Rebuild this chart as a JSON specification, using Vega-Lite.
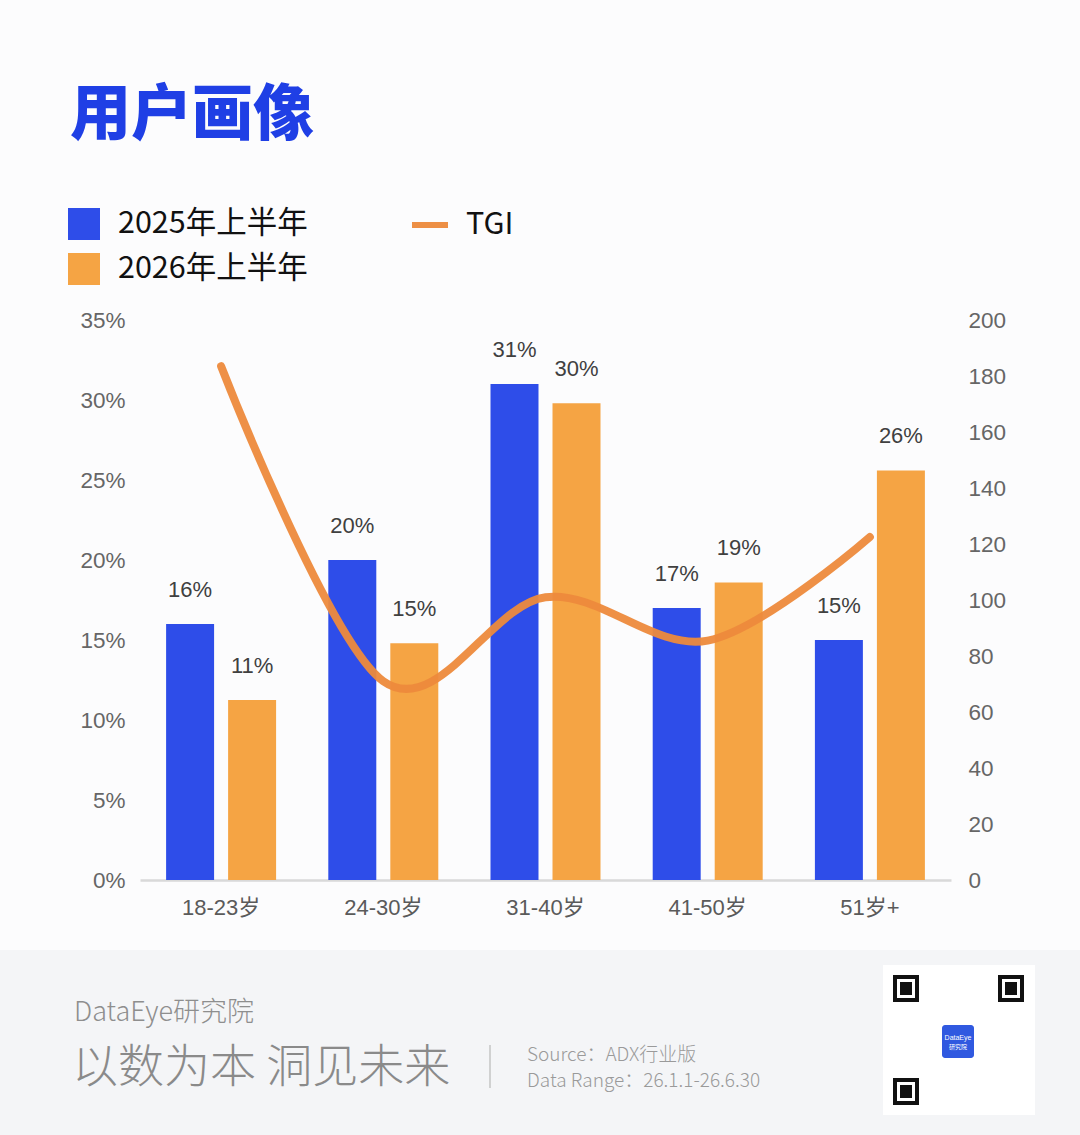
{
  "$schema": "https://vega.github.io/schema/vega-lite/v6.json",
  "width": 811,
  "height": 560,
  "autosize": {"type": "none"},
  "padding": {"left": 140, "top": 320, "right": 129, "bottom": 255},
  "background": "#FCFCFD",
  "title": {
    "text": "用户画像",
    "anchor": "start",
    "frame": "group",
    "font": "Noto Sans CJK SC",
    "fontSize": 61,
    "fontWeight": 900,
    "color": "#1F3FE5",
    "dx": -70,
    "offset": 56
  },
  "datasets": {
    "bars": [
      {"age": "18-23岁", "series": "2025年上半年", "share": 16, "label": "16%"},
      {"age": "18-23岁", "series": "2026年上半年", "share": 11.25, "label": "11%"},
      {"age": "24-30岁", "series": "2025年上半年", "share": 20, "label": "20%"},
      {"age": "24-30岁", "series": "2026年上半年", "share": 14.8, "label": "15%"},
      {"age": "31-40岁", "series": "2025年上半年", "share": 31, "label": "31%"},
      {"age": "31-40岁", "series": "2026年上半年", "share": 29.8, "label": "30%"},
      {"age": "41-50岁", "series": "2025年上半年", "share": 17, "label": "17%"},
      {"age": "41-50岁", "series": "2026年上半年", "share": 18.6, "label": "19%"},
      {"age": "51岁+", "series": "2025年上半年", "share": 15, "label": "15%"},
      {"age": "51岁+", "series": "2026年上半年", "share": 25.6, "label": "26%"}
    ],
    "tgi": [
      {"age": "18-23岁", "tgi": 183.5},
      {"age": "24-30岁", "tgi": 71},
      {"age": "31-40岁", "tgi": 101},
      {"age": "41-50岁", "tgi": 85.5},
      {"age": "51岁+", "tgi": 122.5}
    ]
  },
  "config": {
    "view": {"stroke": null},
    "font": "Liberation Sans"
  },
  "layer": [
    {
      "data": {"values": [{}]},
      "mark": {"type": "rect", "color": "#F4F5F7"},
      "encoding": {"x": {"value": -140}, "x2": {"value": 940}, "y": {"value": 630}, "y2": {"value": 815}}
    },
    {
      "data": {"values": [{"t": "DataEye研究院"}]},
      "mark": {"type": "text", "font": "Noto Sans CJK SC", "fontSize": 27, "fontWeight": 300, "color": "#8E8E8E", "align": "left", "baseline": "middle"},
      "encoding": {"x": {"value": -66}, "y": {"value": 693}, "text": {"field": "t"}}
    },
    {
      "data": {"values": [{"t": "以数为本 洞见未来"}]},
      "mark": {"type": "text", "font": "Noto Sans CJK SC", "fontSize": 46, "fontWeight": 300, "color": "#8A8A8A", "align": "left", "baseline": "middle"},
      "encoding": {"x": {"value": -68}, "y": {"value": 748}, "text": {"field": "t"}}
    },
    {
      "data": {"values": [{}]},
      "mark": {"type": "rule", "color": "#C4C4C4", "strokeWidth": 1.5},
      "encoding": {"x": {"value": 350}, "y": {"value": 725}, "y2": {"value": 768}}
    },
    {
      "data": {"values": [{"t": "Source：ADX行业版"}]},
      "mark": {"type": "text", "font": "Noto Sans CJK SC", "fontSize": 19, "fontWeight": 300, "color": "#9A9A9A", "align": "left", "baseline": "middle"},
      "encoding": {"x": {"value": 387}, "y": {"value": 735}, "text": {"field": "t"}}
    },
    {
      "data": {"values": [{"t": "Data Range：26.1.1-26.6.30"}]},
      "mark": {"type": "text", "font": "Noto Sans CJK SC", "fontSize": 19, "fontWeight": 300, "color": "#9A9A9A", "align": "left", "baseline": "middle"},
      "encoding": {"x": {"value": 387}, "y": {"value": 761}, "text": {"field": "t"}}
    },
    {
      "data": {"values": [{}]},
      "mark": {"type": "rect", "color": "#FFFFFF"},
      "encoding": {"x": {"value": 743}, "x2": {"value": 895}, "y": {"value": 645}, "y2": {"value": 795}}
    },
    {
      "data": {"values": [{}]},
      "mark": {"type": "rect", "fill": "#FFFFFF", "stroke": "#111111", "strokeWidth": 4},
      "encoding": {"x": {"value": 755}, "x2": {"value": 777}, "y": {"value": 657}, "y2": {"value": 680}}
    },
    {
      "data": {"values": [{}]},
      "mark": {"type": "rect", "color": "#111111"},
      "encoding": {"x": {"value": 760}, "x2": {"value": 772}, "y": {"value": 662}, "y2": {"value": 675}}
    },
    {
      "data": {"values": [{}]},
      "mark": {"type": "rect", "fill": "#FFFFFF", "stroke": "#111111", "strokeWidth": 4},
      "encoding": {"x": {"value": 860}, "x2": {"value": 882}, "y": {"value": 657}, "y2": {"value": 680}}
    },
    {
      "data": {"values": [{}]},
      "mark": {"type": "rect", "color": "#111111"},
      "encoding": {"x": {"value": 865}, "x2": {"value": 877}, "y": {"value": 662}, "y2": {"value": 675}}
    },
    {
      "data": {"values": [{}]},
      "mark": {"type": "rect", "fill": "#FFFFFF", "stroke": "#111111", "strokeWidth": 4},
      "encoding": {"x": {"value": 755}, "x2": {"value": 777}, "y": {"value": 760}, "y2": {"value": 783}}
    },
    {
      "data": {"values": [{}]},
      "mark": {"type": "rect", "color": "#111111"},
      "encoding": {"x": {"value": 760}, "x2": {"value": 772}, "y": {"value": 765}, "y2": {"value": 778}}
    },
    {
      "data": {"values": [{}]},
      "mark": {"type": "rect", "color": "#3059E0", "cornerRadius": 3},
      "encoding": {"x": {"value": 802}, "x2": {"value": 834}, "y": {"value": 705}, "y2": {"value": 738}}
    },
    {
      "data": {"values": [{"t": "DataEye"}]},
      "mark": {"type": "text", "fontSize": 7, "color": "#FFFFFF", "align": "center", "baseline": "middle"},
      "encoding": {"x": {"value": 818}, "y": {"value": 718}, "text": {"field": "t"}}
    },
    {
      "data": {"values": [{"t": "研究院"}]},
      "mark": {"type": "text", "font": "Noto Sans CJK SC", "fontSize": 6, "color": "#FFFFFF", "align": "center", "baseline": "middle"},
      "encoding": {"x": {"value": 818}, "y": {"value": 727}, "text": {"field": "t"}}
    },
    {
      "layer": [
        {
          "data": {"name": "bars"},
          "mark": {"type": "bar"},
          "encoding": {
            "x": {"field": "age", "type": "nominal", "sort": null, "title": null,
              "scale": {"paddingInner": 0, "paddingOuter": 0},
              "axis": {"labelAngle": 0, "labelFont": "Liberation Sans, Noto Sans CJK SC", "labelFontSize": 22, "labelColor": "#5A5A5A", "labelPadding": 17, "ticks": false, "domainColor": "#D9D9D9", "domainWidth": 2.5, "grid": false}},
            "xOffset": {"field": "series", "type": "nominal", "scale": {"paddingInner": 0.226, "paddingOuter": 0.421}},
            "y": {"field": "share", "type": "quantitative", "title": null,
              "scale": {"domain": [0, 35]},
              "axis": {"orient": "left", "values": [0, 5, 10, 15, 20, 25, 30, 35], "labelExpr": "datum.value + '%'", "labelFontSize": 22.5, "labelColor": "#666666", "labelPadding": 15, "domain": false, "ticks": false, "grid": false}},
            "color": {"field": "series", "type": "nominal",
              "scale": {"domain": ["2025年上半年", "2026年上半年"], "range": ["#2E4DE9", "#F5A444"]},
              "legend": {"title": null, "orient": "none", "legendX": -72, "legendY": -112, "padding": 0, "symbolType": "square", "symbolSize": 1024, "symbolStrokeWidth": 0, "symbolOpacity": 1, "labelFont": "Noto Sans CJK SC", "labelFontSize": 30.5, "labelColor": "#111111", "labelOffset": 18, "labelLimit": 400, "rowPadding": 13}}
          }
        },
        {
          "data": {"name": "bars"},
          "mark": {"type": "text", "fontSize": 22, "color": "#404040", "baseline": "middle", "dy": -34},
          "encoding": {
            "x": {"field": "age", "type": "nominal", "sort": null, "title": null},
            "xOffset": {"field": "series", "type": "nominal", "scale": {"paddingInner": 0.226, "paddingOuter": 0.421}},
            "y": {"field": "share", "type": "quantitative", "scale": {"domain": [0, 35]}, "axis": null},
            "text": {"field": "label"}
          }
        },
        {
          "data": {"name": "tgi"},
          "mark": {"type": "line", "interpolate": "cardinal", "strokeWidth": 8, "strokeCap": "round", "opacity": 0.95},
          "encoding": {
            "x": {"field": "age", "type": "nominal", "sort": null, "title": null},
            "y": {"field": "tgi", "type": "quantitative", "title": null,
              "scale": {"domain": [0, 200]},
              "axis": {"orient": "right", "values": [0, 20, 40, 60, 80, 100, 120, 140, 160, 180, 200], "labelFontSize": 22.5, "labelColor": "#666666", "labelPadding": 17, "domain": false, "ticks": false, "grid": false}},
            "stroke": {"datum": "TGI", "type": "nominal",
              "scale": {"range": ["#ED8A3C"]},
              "legend": {"title": null, "orient": "none", "legendX": 269, "legendY": -116, "padding": 0, "symbolType": "stroke", "symbolSize": 1296, "symbolStrokeWidth": 6, "labelFont": "Noto Sans CJK SC", "labelFontSize": 30.5, "labelColor": "#111111", "labelOffset": 15, "labelLimit": 400}}
          }
        }
      ],
      "resolve": {"scale": {"y": "independent"}}
    }
  ]
}
